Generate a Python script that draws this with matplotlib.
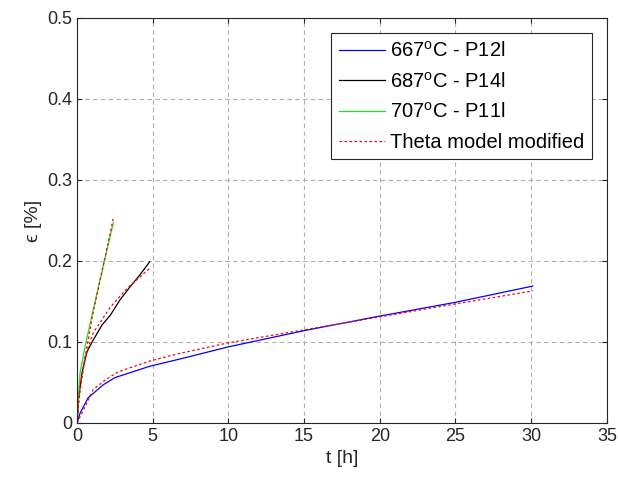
import matplotlib
matplotlib.use("Agg")
import matplotlib.pyplot as plt

plt.rcParams['font.family'] = ['Liberation Sans', 'DejaVu Sans']
plt.rcParams['mathtext.fontset'] = 'custom'
plt.rcParams['mathtext.rm'] = 'Liberation Sans'
plt.rcParams['mathtext.it'] = 'Liberation Sans:italic'

# 667 C - P12l (medido)
t_667 = [0, 0.2, 0.73, 1.72, 2.5, 4.8, 6.8, 10.0, 15.0, 20.0, 25.0, 30.1]
e_667 = [0, 0.012, 0.031, 0.047, 0.056, 0.070, 0.079, 0.094, 0.114, 0.132, 0.149, 0.169]
# modelo para 667
tm_667 = [0, 0.53, 1.06, 1.85, 2.7, 4.8, 6.8, 10.0, 15.0, 20.0, 25.0, 30.1]
em_667 = [0, 0.020, 0.041, 0.053, 0.063, 0.0765, 0.086, 0.099, 0.115, 0.131, 0.147, 0.163]

# 687 C - P14l
t_687 = [0, 0.1, 0.33, 0.66, 1.0, 1.65, 2.2, 2.84, 3.5, 4.16, 4.8]
e_687 = [0, 0.030, 0.062, 0.088, 0.100, 0.121, 0.133, 0.152, 0.168, 0.183, 0.199]
tm_687 = [0, 0.2, 0.53, 1.06, 2.2, 3.3, 4.8]
em_687 = [0, 0.045, 0.081, 0.111, 0.143, 0.166, 0.191]

# 707 C - P11l
t_707 = [0, 0.2, 0.53, 1.06, 1.72, 2.4]
e_707 = [0, 0.062, 0.094, 0.139, 0.193, 0.247]
tm_707 = [0, 0.13, 0.53, 1.06, 1.72, 2.4]
em_707 = [0, 0.030, 0.081, 0.136, 0.193, 0.253]

fig = plt.figure(figsize=(6.18, 4.93), dpi=100)
ax = fig.add_axes([0.1246, 0.142, 0.8574, 0.8215])

ax.plot(t_667, e_667, color='blue', lw=0.9, label='667$^{\\mathrm{o}}$C - P12l')
ax.plot(t_687, e_687, color='black', lw=0.9, label='687$^{\\mathrm{o}}$C - P14l')
ax.plot(t_707, e_707, color='#22dd22', lw=0.9, label='707$^{\\mathrm{o}}$C - P11l')
ax.plot(tm_667, em_667, color='red', ls=(0, (2, 2)), lw=0.9, label='Theta model modified')
ax.plot(tm_687, em_687, color='red', ls=(0, (2, 2)), lw=0.9)
ax.plot(tm_707, em_707, color='red', ls=(0, (2, 2)), lw=0.9)

ax.set_xlim(0, 35)
ax.set_ylim(0, 0.5)
ax.set_xticks(range(0, 36, 5))
ax.set_yticks([0, 0.1, 0.2, 0.3, 0.4, 0.5])
ax.set_yticklabels(['0', '0.1', '0.2', '0.3', '0.4', '0.5'])
ax.grid(True, color='#b0b0b0', ls=(0, (4, 3)), lw=0.8)
ax.tick_params(direction='in', top=True, right=True, labelsize=13, colors='#262626')
for s in ax.spines.values():
    s.set_color('#262626')
    s.set_linewidth(0.8)

ax.set_xlabel('t [h]', fontsize=14, color='#262626')
ax.set_ylabel('\u03f5 [%]', fontsize=14, color='#262626')

leg = ax.legend(loc='upper right', fontsize=14.5, fancybox=False, framealpha=1,
                edgecolor='#262626', handlelength=2.3, handletextpad=0.25,
                labelspacing=0.53, borderaxespad=0.75, borderpad=0.38)
leg.get_frame().set_linewidth(0.8)

plt.savefig('out.png', dpi=100)
